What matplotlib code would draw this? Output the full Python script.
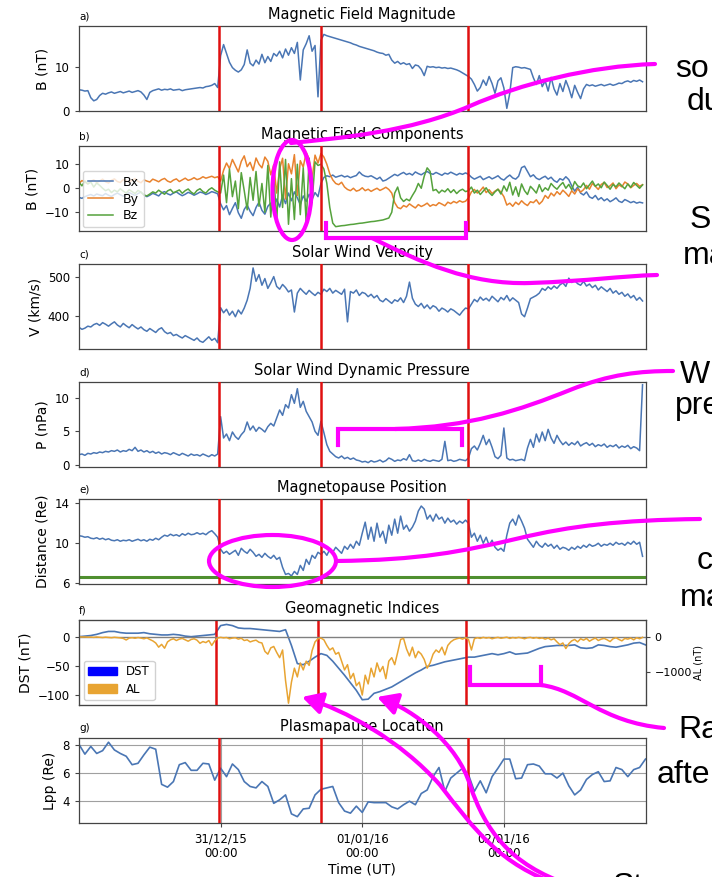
import numpy as np
import matplotlib
matplotlib.use("Agg")
import matplotlib.pyplot as plt
from matplotlib.path import Path
from matplotlib.patches import PathPatch, Ellipse, FancyArrowPatch, Patch
from matplotlib.lines import Line2D

plt.rcParams['font.family'] = ['DejaVu Sans']

# ---------------------------------------------------------------- time axes
start = np.datetime64('2015-12-30T00:00')
end = np.datetime64('2016-01-03T00:00')
t_30min = start + np.arange(192) * np.timedelta64(30, 'm')
t_hour = start + np.arange(97) * np.timedelta64(1, 'h')

event_times = np.array(['2015-12-30T23:45', '2015-12-31T17:00', '2016-01-01T18:00'],
                       dtype='datetime64[m]')
event_times_f = np.array(['2015-12-30T23:10', '2015-12-31T16:30', '2016-01-01T17:30'],
                         dtype='datetime64[m]')
tick_dates = np.array(['2015-12-31T00:00', '2016-01-01T00:00', '2016-01-02T00:00'],
                      dtype='datetime64[m]')
tick_labels = ['31/12/15\n00:00', '01/01/16\n00:00', '02/01/16\n00:00']

# ---------------------------------------------------------------- 30-min series
B_mag = [4.8, 4.7, 4.5, 4.6, 3.0, 2.3, 2.6, 3.5, 4.0, 3.8, 4.1, 4.3, 4.0, 4.2, 4.4, 4.1,
         4.3, 4.5, 4.2, 4.4, 4.6, 4.3, 3.6, 2.6, 4.2, 4.6, 4.8, 5.0, 4.7, 4.9, 4.8, 5.0,
         4.7, 4.8, 4.9, 4.6, 4.8, 4.9, 5.0, 5.1, 5.2, 5.3, 5.2, 5.5, 5.6, 5.8, 6.2, 5.3,
         12.5, 15.0, 13.0, 11.0, 9.8, 9.2, 8.8, 9.3, 10.5, 13.8, 10.8, 10.2, 11.5, 10.6,
         12.8, 10.9, 12.3, 11.2, 13.0, 12.4, 13.5, 12.0, 14.0, 12.6, 14.3, 13.0, 15.5, 7.0,
         13.8, 15.2, 17.0, 13.5, 14.8, 3.2,
         16.0, 17.3, 17.0, 16.8, 16.6, 16.4, 16.2, 16.0, 15.8, 15.6, 15.4, 15.1, 14.9, 14.6,
         14.4, 14.2, 14.0, 13.8, 13.6, 13.3, 13.1, 13.0, 12.6, 12.8, 11.5, 10.8, 11.2, 10.6,
         10.9, 10.5, 10.7, 9.6, 10.4, 10.2, 9.4, 8.0, 10.1, 9.9, 10.0, 9.8, 9.9, 9.7, 9.8,
         9.6, 9.7, 9.5, 9.3, 9.0, 8.6, 8.2,
         7.8, 7.2, 6.0, 4.5, 5.3, 7.0, 5.8, 7.8, 6.2, 4.0, 6.8, 7.5, 5.2, 0.6, 4.0, 9.8,
         10.0, 9.9, 9.7, 9.8, 9.6, 9.4, 7.5, 6.0, 8.0, 5.5, 6.8, 4.5, 7.6, 5.0, 3.6, 6.2,
         4.4, 6.9, 5.2, 3.0, 5.8, 4.2, 2.8, 5.0, 6.0, 5.7, 5.9, 5.6, 5.8, 6.0, 5.7, 5.9,
         6.1, 5.8, 6.0, 6.3, 6.2, 6.6, 6.8, 6.5, 6.9, 6.7, 7.0, 6.6]

Bx = [-3.8, -4.2, -3.5, -3.0, -2.6, -3.2, -2.4, -2.8, -3.1, -2.2, -2.9, -3.4, -2.6, -2.0,
      -2.7, -3.3, -2.5, -1.8, -2.4, -3.0, -2.2, -1.6, -2.8, -3.5, -2.9, -2.1, -2.6, -3.2,
      -1.9, -1.4, -2.3, -2.8, -2.0, -1.5, -2.4, -3.1, -2.5, -1.7, -2.2, -2.9, -2.3, -1.6,
      -1.9, -2.6, -2.1, -1.4, -1.8, -2.3,
      -6.5, -9.0, -7.2, -11.0, -8.4, -6.0, -10.2, -12.5, -8.8, -7.0, -9.6, -11.4, -8.0,
      -5.8, -9.2, -10.8, -7.5, -6.2, -8.6, -4.5, -7.8, -3.0, -6.4, -2.0, -5.2, -1.5, -4.0,
      -6.8, -3.2, -5.5, -2.5, -4.6, -1.8, -3.5,
      2.0, 4.5, 5.2, 4.8, 5.5, 4.6, 5.0, 5.4, 4.7, 5.1, 4.4, 4.9, 5.3, 6.8, 5.6, 5.0, 4.8,
      5.2, 4.5, 3.8, 4.6, 3.0, 3.4, 4.2, 5.0, 5.8, 5.2, 6.0, 6.6, 5.7, 6.2, 5.5, 6.8, 6.1,
      5.6, 6.4, 7.0, 6.2, 5.8, 6.6, 6.0, 5.4, 6.3, 5.9, 6.7, 6.1, 5.5, 6.2, 5.8, 6.4,
      5.8, 4.6, 3.8, 4.4, 5.0, 3.6, 4.2, 4.8, 3.9, 4.5, 5.2, 4.0, 3.4, 4.6, 5.5, 4.3, 3.8,
      5.0, 8.6, 9.2, 7.0, 4.8, 5.6, 4.2, 3.6, 4.4, 5.0, 3.8, 4.6, 3.2, 2.5, 4.0, 3.4, 4.8,
      3.6, 1.0, -1.2, 0.5, -2.0, -2.8, -1.5, -3.6, -4.2, -3.0, -4.8, -3.9, -5.2, -4.4,
      -5.6, -4.9, -4.0, -5.4, -5.9, -4.7, -5.3, -6.0, -5.5, -6.2, -5.8, -6.1]

By = [2.0, 3.2, 2.6, 1.8, 2.9, 3.5, 2.4, 3.0, 3.8, 2.7, 2.2, 3.3, 3.9, 2.8, 2.4, 3.6, 3.1,
      2.5, 3.4, 4.0, 2.9, 2.3, 3.5, 3.0, 2.6, 3.8, 3.3, 2.7, 3.6, 4.1, 3.0, 2.5, 3.4, 3.9,
      2.8, 3.5, 4.2, 3.3, 3.7, 4.4, 3.6, 4.0, 4.8, 4.2, 4.6, 5.0, 4.4, 4.8,
      3.0, 7.5, 10.5, 8.2, 12.0, 9.4, 6.8, 11.2, 13.5, 9.0, 10.8, 7.4, 12.6, 10.0, 8.5,
      13.0, 11.2, 5.6, 9.8, -2.0, 8.0, 12.5, -4.5, 10.2, 6.0, 14.0, -3.0, 11.5, 8.8, 15.0,
      12.2, 4.0, 13.8, 10.5,
      14.5, 13.0, 10.0, 6.0, 3.5, 2.0, 1.5, 2.5, 0.5, -0.5, -1.0, 0.0, -1.2, -0.8, 0.2,
      -1.0, -0.4, -1.3, -0.6, 0.0, -0.9, -0.3, 0.4, -0.5, -2.0, -6.0, -8.0, -8.5, -7.2,
      -7.8, -6.5, -7.4, -8.2, -6.8, -7.6, -7.0, -6.2, -7.5, -6.8, -7.2, -6.0, -6.6, -7.3,
      -5.8, -6.4, -5.5, -6.1, -5.2, -5.8, -5.4,
      -4.0, -1.5, -0.5, -2.0, -1.0, 0.5, -1.8, -0.6, -2.2, -1.2, -0.4, -1.6, -3.5, -7.0,
      -6.2, -7.5, -5.8, -6.8, -5.2, -6.4, -7.2, -5.6, -6.0, -4.8, -6.6, -5.4, -3.0, -4.2,
      -2.0, -3.2, -1.4, -2.6, -0.8, -2.0, -3.4, -1.0, -2.4, -0.2, -1.6, -0.6, 1.2, -0.4,
      2.0, 0.8, -0.5, 1.6, 2.4, 0.3, 1.0, 2.2, -0.2, 1.4, 0.6, 2.6, 1.8, 0.2, 1.2, 2.0,
      0.8, 1.5]

Bz = [2.5, 1.0, 3.0, 1.8, 2.6, 0.5, 2.2, 1.2, 0.0, -1.0, -0.4, -1.8, -0.8, -1.5, -0.2,
      -1.2, -2.0, -0.6, -1.4, -2.2, -0.9, -1.6, -2.8, -3.2, -2.4, -1.5, -2.0, -0.8, -1.7,
      -2.5, -1.1, -0.5, -1.9, -1.3, -0.7, -2.1, -1.0, -0.3, -1.6, -2.4, -0.9, -0.2, -1.4,
      -2.0, -0.6, 0.2, -0.8, -1.5,
      -2.0, 5.5, -6.0, 8.0, -3.5, 3.0, -8.5, 6.5, -1.0, -9.0, 4.5, -5.0, 7.0, -7.5, 2.0,
      -10.0, 9.5, -12.0, 6.0, -14.0, 11.0, -8.0, 12.0, -15.0, 4.0, -13.0, 10.0, -11.0,
      8.5, -14.5, 12.5, -6.0, 11.0, 9.5,
      10.0, 8.0, 2.0, -8.0, -14.5, -16.0, -15.8, -15.6, -15.5, -15.3, -15.1, -15.0, -14.8,
      -14.6, -14.5, -14.3, -14.1, -13.9, -13.8, -13.6, -13.4, -13.2, -12.8, -12.4, -10.0,
      -2.0, 0.5, -4.0, -5.5, -4.5, -5.2, -3.0, -1.0, 2.0, 0.0, 5.0, 8.5, 7.0, -1.0, -0.5,
      -2.0, -0.8, -1.5, -0.2, -1.8, -0.6, -2.2, -1.0, -0.4, -1.4,
      -1.0, 0.5, -2.0, -0.8, -2.6, -1.2, 0.2, -1.8, -3.0, -1.5, -0.4, -2.4, 1.0, -1.2, 2.5,
      -2.8, 0.6, -3.4, 1.8, -1.0, -2.6, 0.8, -0.5, -2.0, 1.5, -1.4, 0.2, -0.8, 2.0, 0.6,
      -0.4, 1.2, 2.4, 0.0, 1.6, -0.6, 2.8, 1.0, 0.4, 2.2, -0.2, 1.4, 3.0, 0.8, 1.8, 0.2,
      2.6, 1.2, -0.4, 1.6, 0.6, 2.2, 1.0, -0.2, 1.8, 0.4, 2.4, 1.2, 0.0, 1.4]

V_sw = [371, 366, 369, 374, 372, 378, 381, 376, 383, 379, 374, 380, 385, 377, 372, 381,
        375, 370, 378, 372, 367, 372, 365, 361, 368, 363, 358, 366, 370, 360, 355, 358,
        350, 353, 348, 344, 350, 346, 342, 338, 344, 336, 333, 340, 347, 338, 343, 332,
        421, 408, 417, 402, 412, 398, 415, 405, 420, 440, 470, 522, 488, 505, 478, 495,
        470, 484, 500, 475, 468, 480, 472, 461, 466, 410, 458, 470, 462, 455, 465, 458,
        452, 460,
        455, 468, 462, 470, 458, 465, 460, 455, 468, 385, 462, 458, 466, 452, 460, 457,
        449, 455, 446, 452, 440, 436, 444, 438, 432, 441, 437, 446, 434, 450, 486, 445,
        430, 424, 432, 420, 428, 418, 426, 422, 412, 420, 416, 410, 418, 414, 408, 402,
        412, 420,
        418, 430, 442, 436, 448, 440, 445, 438, 450, 443, 436, 447, 441, 452, 438, 446,
        440, 434, 405, 398, 420, 444, 448, 452, 458, 470, 465, 474, 468, 476, 470, 479,
        484, 475, 496, 485, 490, 482, 478, 488, 476, 481, 472, 478, 466, 474, 468, 462,
        470, 458, 464, 455, 460, 450, 456, 446, 452, 440, 447, 438]

P_dyn = [1.5, 1.6, 1.4, 1.7, 1.6, 1.8, 1.7, 1.9, 1.8, 2.0, 1.9, 2.1, 2.0, 2.2, 1.9, 2.1,
         2.0, 2.3, 2.1, 2.6, 2.0, 2.2, 1.9, 2.1, 1.8, 2.0, 1.7, 1.9, 1.6, 1.8, 1.7, 1.5,
         1.8, 1.6, 1.4, 1.7, 1.5, 1.3, 1.6, 1.4, 1.5, 1.3, 1.6, 1.4, 1.2, 1.5, 1.3, 1.6,
         7.2, 4.0, 4.6, 3.6, 4.9, 4.2, 3.8, 4.5, 5.0, 6.4, 5.2, 5.8, 5.0, 5.6, 5.3, 4.9,
         5.7, 6.2, 5.8, 7.0, 8.2, 7.4, 9.0, 8.5, 10.5, 9.2, 11.4, 8.6, 9.5, 8.0, 7.2, 6.4,
         5.0, 4.4,
         6.5, 4.8, 3.0, 2.0, 1.6, 1.2, 1.0, 1.3, 0.9, 1.1, 0.8, 1.0, 0.7, 0.6, 0.4, 0.5,
         0.3, 0.6, 0.4, 0.5, 0.7, 0.4, 0.6, 1.0, 0.8, 0.5, 0.7, 0.6, 0.9, 0.7, 1.5, 0.6,
         0.5, 0.7, 0.5, 0.8, 0.6, 0.5, 0.7, 0.6, 0.5, 0.8, 3.5, 0.6, 0.7, 0.5, 0.6, 0.8,
         0.7, 0.6,
         1.0, 2.4, 2.8, 2.2, 3.2, 4.4, 3.0, 3.8, 2.6, 1.2, 0.9, 1.4, 5.5, 1.0, 0.7, 0.8,
         0.6, 0.7, 0.8, 0.6, 2.5, 3.8, 2.6, 4.6, 3.4, 4.9, 3.6, 5.3, 4.0, 3.2, 4.4, 3.6,
         3.0, 3.4, 2.9, 3.3, 3.0, 3.5, 2.8, 3.1, 3.3, 2.9, 3.2, 2.7, 3.0, 2.8, 3.1, 2.6,
         2.9, 2.7, 3.0, 2.5, 2.8, 2.6, 2.9, 2.4, 2.7, 2.5, 2.1, 12.0]

R_mp = [10.75, 10.7, 10.6, 10.65, 10.5, 10.45, 10.55, 10.4, 10.5, 10.35, 10.45, 10.3,
        10.25, 10.35, 10.2, 10.3, 10.25, 10.35, 10.2, 10.3, 10.4, 10.25, 10.35, 10.2,
        10.4, 10.3, 10.5, 10.35, 10.6, 10.8, 10.7, 10.9, 10.75, 10.85, 10.7, 10.95, 10.8,
        11.0, 10.85, 10.9, 11.05, 10.9, 11.0, 10.85, 11.1, 11.25, 10.95, 10.6,
        9.4, 9.0, 9.2, 8.9, 9.1, 9.3, 8.8, 9.5, 9.2, 9.0, 9.4, 9.1, 8.7, 8.9, 8.6, 9.0,
        8.7, 8.5, 8.8, 8.4, 8.6, 7.6, 6.9, 7.0, 6.75, 7.2, 6.9, 7.8, 7.3, 8.4, 7.9, 8.8,
        8.5, 9.1,
        8.9, 9.2, 8.8, 9.4, 9.1, 9.6, 9.3, 9.0, 9.7, 9.4, 9.9, 9.5, 10.2, 9.8, 11.0, 12.1,
        10.4, 11.6, 10.2, 12.0, 10.6, 11.2, 10.0, 11.8, 10.8, 12.4, 11.0, 12.7, 11.4, 11.8,
        11.2, 11.6, 12.2, 13.2, 13.7, 13.4, 12.4, 12.8, 12.2, 12.9, 12.4, 12.6, 12.0, 12.5,
        12.1, 12.3, 11.9, 12.2, 12.0, 12.3,
        12.0, 10.6, 11.0, 10.2, 10.8, 10.0, 10.6, 9.8, 10.3, 9.6, 9.3, 9.5, 9.2, 10.8, 12.0,
        12.4, 11.8, 12.8, 12.2, 11.5, 10.4, 10.0, 9.6, 10.2, 9.8, 9.6, 10.0, 9.7, 9.9, 9.5,
        9.8, 9.4, 9.6, 9.5, 9.3, 9.6, 9.4, 9.7, 9.5, 9.8, 9.6, 9.9, 9.7, 9.8, 10.0, 9.7,
        9.9, 9.8, 10.0, 9.8, 10.1, 9.9, 10.0, 9.8, 10.1, 9.9, 10.2, 9.9, 10.1, 8.7]

AL = [-5, -10, -8, -15, -12, -20, -10, -18, -25, -15, -22, -30, -18, -25, -35, -50, -95,
      -40, -30, -45, -25, -40, -60, -35, -80, -120, -180, -300, -220, -330, -150, -90,
      -60, -110, -70, -50, -90, -130, -80, -60, -100, -190, -140, -170, -110, -250, -120,
      -40,
      -20, -35, -25, -60, -40, -30, -70, -45, -110, -90, -150, -120, -100, -160, -180,
      -420, -500, -320, -280, -450, -600, -380, -1250, -1900, -1300, -900, -1150, -750,
      -950, -700, -820, -400, -150, -60,
      -40, -90, -250, -380, -320, -500, -450, -700, -950, -800, -1200, -1050, -1400,
      -1300, -1667, -1100, -1350, -900, -1150, -750, -1000, -850, -1200, -700, -600, -800,
      -450, -80, -50, -350, -550, -300, -600, -420, -500, -650, -900, -750, -500, -380,
      -450, -300, -520, -250, -150, -90, -60, -40, -70, -30,
      -80, -380, -60, -30, -50, -20, -40, -25, -60, -35, -20, -45, -30, -15, -50, -25,
      -40, -20, -35, -60, -30, -20, -45, -25, -50, -35, -70, -40, -90, -60, -150, -230,
      -180, -340, -200, -120, -80, -150, -60, -100, -50, -130, -80, -40, -110, -70, -50,
      -90, -140, -60, -30, -80, -120, -50, -70, -40, -90, -30, -60, -20]

# ---------------------------------------------------------------- hourly series
DST = [0, 1, 2, 4, 7, 9, 9, 7, 6, 6, 6, 7, 5, 4, 3, 3, 4, 3, 1, 0, 1, 2, 3, 4,
       19, 21, 19, 15, 14, 14, 13, 12, 11, 10, 9, 12,
       -15, -46, -48, -42, -35, -29, -32, -42, -54, -66, -79, -92, -108, -107, -97, -94,
       -90, -86, -80, -74, -68, -62, -57, -51, -49, -46, -43, -41, -39, -37, -35, -35,
       -33, -31, -29, -31, -29, -26, -30, -29, -28, -24, -20, -17, -16, -15, -15, -15,
       -14, -19, -20, -19, -14, -15, -17, -18, -16, -14, -11, -10, -14]

Lpp = [8.05, 7.35, 7.9, 7.4, 7.6, 8.2, 7.65, 7.4, 7.2, 6.6, 6.7, 7.3, 7.85, 7.7, 5.2,
       5.0, 5.4, 6.6, 6.75, 6.2, 6.2, 6.7, 6.65, 5.5, 6.35, 5.75, 6.65, 6.25, 5.4, 5.05,
       4.95, 5.4, 5.05, 3.85, 4.1, 4.45, 3.1, 2.9, 3.45, 3.5, 4.45, 4.85, 4.95, 5.05, 3.9,
       3.3, 3.15, 3.65, 3.2, 3.95, 3.9, 3.9, 3.9, 3.6, 3.45, 3.75, 4.0, 3.75, 4.55, 4.8,
       5.75, 6.4, 4.7, 5.65, 6.0, 6.35, 5.9, 4.7, 5.45, 4.6, 5.75, 6.35, 7.0, 7.0, 5.6,
       5.65, 6.6, 6.65, 6.5, 5.95, 5.95, 5.65, 6.0, 5.1, 4.45, 4.8, 5.55, 5.9, 6.1, 5.4,
       5.45, 6.4, 6.25, 5.75, 6.25, 6.4, 7.0]

GEO_ORBIT = 6.6

# ---------------------------------------------------------------- styling
BLUE = '#4a76b4'
ORANGE = '#e8822e'
GREEN = '#55a23c'
AL_COLOR = '#e8a432'
RED = '#e01010'
SPINE = '#444444'
MAGENTA = '#ff00ff'

W, H = 712, 877
fig = plt.figure(figsize=(W / 100, H / 100), dpi=100)

LEFT, WIDTH, HEIGHT = 79, 566.5, 85
TOPS = [26, 146, 264, 382, 499, 620, 738]


def make_axes(top):
    return fig.add_axes([LEFT / W, 1 - (top + HEIGHT) / H, WIDTH / W, HEIGHT / H])


axes = [make_axes(t) for t in TOPS]
ax_a, ax_b, ax_c, ax_d, ax_e, ax_f, ax_g = axes

titles = ['Magnetic Field Magnitude', 'Magnetic Field Components', 'Solar Wind Velocity',
          'Solar Wind Dynamic Pressure', 'Magnetopause Position', 'Geomagnetic Indices',
          'Plasmapause Location']
letters = ['a)', 'b)', 'c)', 'd)', 'e)', 'f)', 'g)']
ylabels = ['B (nT)', 'B (nT)', 'V (km/s)', 'P (nPa)', 'Distance (Re)', 'DST (nT)',
           'Lpp (Re)']

for ax, title, letter, ylab in zip(axes, titles, letters, ylabels):
    ax.set_title(title, fontsize=10.5, pad=5)
    ax.set_title(letter, loc='left', fontsize=7.5, pad=5)
    ax.set_ylabel(ylab, fontsize=10)
    ax.set_xlim(start, end)
    ax.tick_params(axis='y', labelsize=8.5, length=3, color=SPINE)
    for sp in ax.spines.values():
        sp.set_color(SPINE)
        sp.set_linewidth(0.9)
    if ax is not ax_g:
        ax.tick_params(axis='x', bottom=False, labelbottom=False)
    times = event_times_f if ax is ax_f else event_times
    for t in times:
        ax.axvline(t, color=RED, lw=1.8, zorder=3)

# a) |B|
ax_a.plot(t_30min, B_mag, color=BLUE, lw=1.1)
ax_a.set_ylim(0, 19.2)
ax_a.set_yticks([0, 10])

# b) components
ax_b.plot(t_30min, Bx, color=BLUE, lw=1.1, label='Bx')
ax_b.plot(t_30min, By, color=ORANGE, lw=1.1, label='By')
ax_b.plot(t_30min, Bz, color=GREEN, lw=1.1, label='Bz')
ax_b.set_ylim(-17.8, 17.6)
ax_b.set_yticks([-10, 0, 10])
ax_b.legend(loc='lower left', fontsize=9, framealpha=0.8, labelspacing=0.3,
            borderaxespad=0.3, handlelength=2.0, borderpad=0.4)

# c) velocity
ax_c.plot(t_30min, V_sw, color=BLUE, lw=1.1)
ax_c.set_ylim(316, 532)
ax_c.set_yticks([400, 500])

# d) dynamic pressure
ax_d.plot(t_30min, P_dyn, color=BLUE, lw=1.1)
ax_d.set_ylim(-0.35, 12.4)
ax_d.set_yticks([0, 5, 10])

# e) magnetopause standoff distance
ax_e.plot(t_30min, R_mp, color=BLUE, lw=1.1)
ax_e.axhline(GEO_ORBIT, color='#4f8f2f', lw=2.2)
ax_e.set_ylim(5.95, 14.4)
ax_e.set_yticks([6, 10, 14])

# f) DST and AL
ax_f.plot(t_hour, DST, color=BLUE, lw=1.2)
ax_f.set_ylim(-117, 28.6)
ax_f.set_yticks([-100, -50, 0])
ax_al = ax_f.twinx()
ax_al.axhline(0, color='#808080', lw=1.0)
ax_al.plot(t_30min, AL, color=AL_COLOR, lw=1.1)
ax_al.set_ylim(-1952, 476)
ax_al.set_yticks([-1000, 0])
ax_al.set_ylabel('AL (nT)', fontsize=7, labelpad=1)
ax_al.tick_params(axis='y', labelsize=8, length=3, color=SPINE)
for sp in ax_al.spines.values():
    sp.set_color(SPINE)
ax_al.legend(handles=[Patch(color='#0000ff', label='DST'),
                      Patch(color=AL_COLOR, label='AL')],
             loc='lower left', fontsize=8.5, handlelength=2.4, framealpha=0.9,
             borderaxespad=0.4, labelspacing=0.35)

# g) plasmapause
ax_g.plot(t_hour, Lpp, color=BLUE, lw=1.2)
ax_g.set_ylim(2.45, 8.5)
ax_g.set_yticks([4, 6, 8])
ax_g.set_xticks(tick_dates)
ax_g.set_xticklabels(tick_labels, fontsize=8.5)
ax_g.tick_params(axis='x', length=3, color=SPINE)
ax_g.grid(True, color='#a0a0a0', lw=0.8)
ax_g.set_axisbelow(True)
ax_g.set_xlabel('Time (UT)', fontsize=10, labelpad=2)

# ---------------------------------------------------------------- slide annotations
def to_fig(points):
    return [(x / W, 1 - y / H) for x, y in points]


def bezier_path(points):
    codes = [Path.MOVETO] + [Path.CURVE4] * (len(points) - 1)
    return Path(to_fig(points), codes)


connector_curves = [
    [(291, 143), (340, 138), (410, 132), (470, 106), (520, 84), (590, 66), (655, 64)],
    [(372, 238), (420, 262), (470, 285), (530, 283), (590, 281), (620, 276), (657, 275)],
    [(395, 429), (470, 427), (520, 410), (570, 390), (610, 374), (640, 371), (673, 371)],
    [(336, 561), (420, 560), (460, 552), (520, 538), (570, 526), (620, 520), (700, 519)],
    [(541, 685), (580, 690), (600, 722), (664, 728)],
]
for pts in connector_curves:
    fig.add_artist(PathPatch(bezier_path(pts), fill=False, ec=MAGENTA, lw=3,
                             transform=fig.transFigure, zorder=20, capstyle='round'))

brackets = [
    [(326, 223), (326, 238), (466, 238), (466, 223)],
    [(338, 445), (338, 429), (462, 429), (462, 445)],
    [(470, 667), (470, 685), (541, 685), (541, 667)],
]
for pts in brackets:
    xs, ys = zip(*to_fig(pts))
    fig.add_artist(Line2D(xs, ys, color=MAGENTA, lw=3, transform=fig.transFigure,
                          zorder=20, solid_joinstyle='miter'))

ellipses = [(292, 190, 39, 100), (272.5, 561, 127, 52)]
for cx, cy, ew, eh in ellipses:
    fig.add_artist(Ellipse((cx / W, 1 - cy / H), ew / W, eh / H, fill=False, ec=MAGENTA,
                           lw=3, transform=fig.transFigure, zorder=20))

storm_arrows = [
    [(560, 885), (500, 865), (475, 830), (440, 785), (400, 740), (345, 710), (302, 697)],
    [(570, 885), (510, 865), (485, 830), (470, 785), (458, 745), (415, 710), (377, 697)],
]
for pts in storm_arrows:
    fig.add_artist(FancyArrowPatch(path=bezier_path(pts),
                                   arrowstyle='-|>,head_length=0.6,head_width=0.33',
                                   mutation_scale=20, color=MAGENTA, lw=3,
                                   shrinkA=0, shrinkB=0, transform=fig.transFigure,
                                   zorder=21))

side_notes = [('so', 675, 77), ('du', 687, 110), ('S', 690, 228), ('ma', 683, 264),
              ('W', 680, 383), ('pre', 675, 414), ('c', 697, 569), ('ma', 680, 606),
              ('Ra', 678, 738), ('afte', 657, 783), ('St', 613, 895)]
for s, x, y in side_notes:
    fig.text(x / W, 1 - y / H, s, fontsize=23, family='Liberation Sans', color='black',
             ha='left', va='baseline')

fig.savefig('out.png', dpi=100)
